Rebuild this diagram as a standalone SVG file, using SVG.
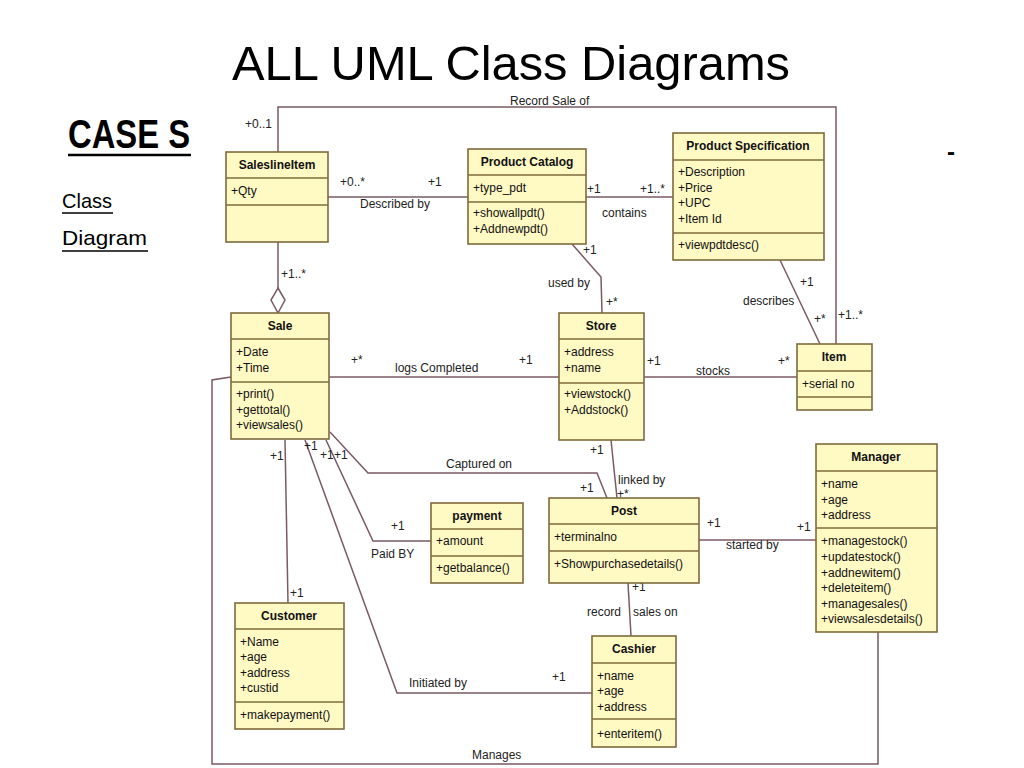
<svg xmlns="http://www.w3.org/2000/svg" width="1024" height="768" viewBox="0 0 1024 768">
<style>
.box{fill:#FFF9C4;stroke:#7F6A3C;stroke-width:1.6}
.sep{stroke:#7F6A3C;stroke-width:1.6}
.hd{font-family:"Liberation Sans",Arial,sans-serif;font-size:12px;font-weight:bold;fill:#111;text-anchor:middle}
.at{font-family:"Liberation Sans",Arial,sans-serif;font-size:12px;fill:#111}
.cn{fill:none;stroke:#7A5A62;stroke-width:1.5}
.lb{font-family:"Liberation Sans",Arial,sans-serif;font-size:12px;fill:#222}
.slide{font-family:"Liberation Sans",Arial,sans-serif;fill:#000}
</style>
<rect width="1024" height="768" fill="#fff"/>
<g id="title">
<text class="slide" x="232" y="80" font-size="48" textLength="558" lengthAdjust="spacingAndGlyphs">ALL UML Class Diagrams</text>
<text class="slide" x="68" y="148" font-size="40" font-weight="bold" textLength="122" lengthAdjust="spacingAndGlyphs">CASE S</text>
<line x1="68" y1="155" x2="191" y2="155" stroke="#000" stroke-width="2.5"/>
<text class="slide" x="62" y="208" font-size="21" textLength="50" lengthAdjust="spacingAndGlyphs">Class</text>
<line x1="62" y1="213" x2="113" y2="213" stroke="#000" stroke-width="1.5"/>
<text class="slide" x="62" y="245" font-size="21" textLength="85" lengthAdjust="spacingAndGlyphs">Diagram</text>
<line x1="62" y1="251" x2="148" y2="251" stroke="#000" stroke-width="1.5"/>
<text class="slide" x="947" y="160" font-size="24" font-weight="bold">-</text>
</g>
<g id="connectors">
<polyline class="cn" points="278,152 278,107 836,107 836,344"/>
<line class="cn" x1="328" y1="197" x2="468" y2="197"/>
<line class="cn" x1="586" y1="197" x2="673" y2="197"/>
<polyline class="cn" points="572,244 601,277 602,313"/>
<line class="cn" x1="780" y1="260" x2="820" y2="344"/>
<line class="cn" x1="278" y1="242" x2="278" y2="288"/>
<polygon points="278,288 285,300 278,313 271,300" fill="#fff" stroke="#7A5A62" stroke-width="1.5"/>
<line class="cn" x1="329" y1="377" x2="559" y2="377"/>
<line class="cn" x1="644" y1="377" x2="797" y2="377"/>
<polyline class="cn" points="231,377 212,380 212,764 878,764 878,632"/>
<polyline class="cn" points="330,432 368,473 597,473 607,498"/>
<line class="cn" x1="611" y1="440" x2="617" y2="498"/>
<polyline class="cn" points="326,440 373,541 431,541"/>
<polyline class="cn" points="305,440 397,693 592,693"/>
<line class="cn" x1="285" y1="440" x2="288" y2="603"/>
<line class="cn" x1="699" y1="540" x2="816" y2="540"/>
<line class="cn" x1="628" y1="583" x2="631" y2="636"/>
</g>
<g id="labels">
<text class="lb" x="245" y="128">+0..1</text>
<text class="lb" x="510" y="105">Record Sale of</text>
<text class="lb" x="340" y="186">+0..*</text>
<text class="lb" x="428" y="186">+1</text>
<text class="lb" x="360" y="208">Described by</text>
<text class="lb" x="587" y="193">+1</text>
<text class="lb" x="640" y="193">+1..*</text>
<text class="lb" x="602" y="217">contains</text>
<text class="lb" x="583" y="254">+1</text>
<text class="lb" x="548" y="287">used by</text>
<text class="lb" x="606" y="306">+*</text>
<text class="lb" x="800" y="286">+1</text>
<text class="lb" x="743" y="305">describes</text>
<text class="lb" x="814" y="323">+*</text>
<text class="lb" x="838" y="319">+1..*</text>
<text class="lb" x="281" y="278">+1..*</text>
<text class="lb" x="351" y="364">+*</text>
<text class="lb" x="395" y="372">logs Completed</text>
<text class="lb" x="519" y="364">+1</text>
<text class="lb" x="647" y="365">+1</text>
<text class="lb" x="696" y="375">stocks</text>
<text class="lb" x="778" y="365">+*</text>
<text class="lb" x="446" y="468">Captured on</text>
<text class="lb" x="580" y="492">+1</text>
<text class="lb" x="590" y="454">+1</text>
<text class="lb" x="618" y="484">linked by</text>
<text class="lb" x="617" y="498">+*</text>
<text class="lb" x="270" y="460">+1</text>
<text class="lb" x="290" y="597">+1</text>
<text class="lb" x="304" y="450">+1</text>
<text class="lb" x="320" y="459">+1</text>
<text class="lb" x="334" y="459">+1</text>
<text class="lb" x="391" y="530">+1</text>
<text class="lb" x="371" y="558">Paid BY</text>
<text class="lb" x="707" y="527">+1</text>
<text class="lb" x="797" y="531">+1</text>
<text class="lb" x="726" y="549">started by</text>
<text class="lb" x="632" y="591">+1</text>
<text class="lb" x="587" y="616">record</text>
<text class="lb" x="633" y="616">sales on</text>
<text class="lb" x="409" y="687">Initiated by</text>
<text class="lb" x="552" y="681">+1</text>
<text class="lb" x="472" y="759">Manages</text>
</g>
<g id="SaleslineItem">
<rect class="box" x="226" y="152" width="102" height="90"/>
<line class="sep" x1="226" y1="178" x2="328" y2="178"/>
<line class="sep" x1="226" y1="205" x2="328" y2="205"/>
<text class="hd" x="277" y="169">SaleslineItem</text>
<text class="at" x="231" y="195">+Qty</text>
</g>
<g id="ProductCatalog">
<rect class="box" x="468" y="149" width="118" height="95"/>
<line class="sep" x1="468" y1="175" x2="586" y2="175"/>
<line class="sep" x1="468" y1="202" x2="586" y2="202"/>
<text class="hd" x="527" y="166">Product Catalog</text>
<text class="at" x="473" y="192">+type_pdt</text>
<text class="at" x="473" y="217">+showallpdt()</text>
<text class="at" x="473" y="233">+Addnewpdt()</text>
</g>
<g id="ProductSpecification">
<rect class="box" x="673" y="133" width="151" height="127"/>
<line class="sep" x1="673" y1="160" x2="824" y2="160"/>
<line class="sep" x1="673" y1="233" x2="824" y2="233"/>
<text class="hd" x="748" y="150">Product Specification</text>
<text class="at" x="678" y="176">+Description</text>
<text class="at" x="678" y="192">+Price</text>
<text class="at" x="678" y="207">+UPC</text>
<text class="at" x="678" y="223">+Item Id</text>
<text class="at" x="678" y="249">+viewpdtdesc()</text>
</g>
<g id="Sale">
<rect class="box" x="231" y="313" width="98" height="126"/>
<line class="sep" x1="231" y1="339" x2="329" y2="339"/>
<line class="sep" x1="231" y1="382" x2="329" y2="382"/>
<text class="hd" x="280" y="330">Sale</text>
<text class="at" x="236" y="356">+Date</text>
<text class="at" x="236" y="372">+Time</text>
<text class="at" x="236" y="398">+print()</text>
<text class="at" x="236" y="414">+gettotal()</text>
<text class="at" x="236" y="429">+viewsales()</text>
</g>
<g id="Store">
<rect class="box" x="559" y="313" width="85" height="127"/>
<line class="sep" x1="559" y1="339" x2="644" y2="339"/>
<line class="sep" x1="559" y1="383" x2="644" y2="383"/>
<text class="hd" x="601" y="330">Store</text>
<text class="at" x="564" y="356">+address</text>
<text class="at" x="564" y="372">+name</text>
<text class="at" x="564" y="398">+viewstock()</text>
<text class="at" x="564" y="414">+Addstock()</text>
</g>
<g id="Item">
<rect class="box" x="797" y="344" width="75" height="66"/>
<line class="sep" x1="797" y1="371" x2="872" y2="371"/>
<line class="sep" x1="797" y1="397" x2="872" y2="397"/>
<text class="hd" x="834" y="361">Item</text>
<text class="at" x="802" y="388">+serial no</text>
</g>
<g id="payment">
<rect class="box" x="431" y="503" width="92" height="80"/>
<line class="sep" x1="431" y1="529" x2="523" y2="529"/>
<line class="sep" x1="431" y1="556" x2="523" y2="556"/>
<text class="hd" x="477" y="520">payment</text>
<text class="at" x="436" y="545">+amount</text>
<text class="at" x="436" y="572">+getbalance()</text>
</g>
<g id="Post">
<rect class="box" x="549" y="498" width="150" height="85"/>
<line class="sep" x1="549" y1="524" x2="699" y2="524"/>
<line class="sep" x1="549" y1="551" x2="699" y2="551"/>
<text class="hd" x="624" y="515">Post</text>
<text class="at" x="554" y="541">+terminalno</text>
<text class="at" x="554" y="568">+Showpurchasedetails()</text>
</g>
<g id="Manager">
<rect class="box" x="816" y="444" width="121" height="188"/>
<line class="sep" x1="816" y1="471" x2="937" y2="471"/>
<line class="sep" x1="816" y1="528" x2="937" y2="528"/>
<text class="hd" x="876" y="461">Manager</text>
<text class="at" x="821" y="488">+name</text>
<text class="at" x="821" y="504">+age</text>
<text class="at" x="821" y="519">+address</text>
<text class="at" x="821" y="545">+managestock()</text>
<text class="at" x="821" y="561">+updatestock()</text>
<text class="at" x="821" y="577">+addnewitem()</text>
<text class="at" x="821" y="592">+deleteitem()</text>
<text class="at" x="821" y="608">+managesales()</text>
<text class="at" x="821" y="623">+viewsalesdetails()</text>
</g>
<g id="Customer">
<rect class="box" x="235" y="603" width="109" height="126"/>
<line class="sep" x1="235" y1="629" x2="344" y2="629"/>
<line class="sep" x1="235" y1="702" x2="344" y2="702"/>
<text class="hd" x="289" y="620">Customer</text>
<text class="at" x="240" y="646">+Name</text>
<text class="at" x="240" y="661">+age</text>
<text class="at" x="240" y="677">+address</text>
<text class="at" x="240" y="692">+custid</text>
<text class="at" x="240" y="719">+makepayment()</text>
</g>
<g id="Cashier">
<rect class="box" x="592" y="636" width="84" height="111"/>
<line class="sep" x1="592" y1="663" x2="676" y2="663"/>
<line class="sep" x1="592" y1="719" x2="676" y2="719"/>
<text class="hd" x="634" y="653">Cashier</text>
<text class="at" x="597" y="680">+name</text>
<text class="at" x="597" y="695">+age</text>
<text class="at" x="597" y="711">+address</text>
<text class="at" x="597" y="738">+enteritem()</text>
</g>
</svg>
